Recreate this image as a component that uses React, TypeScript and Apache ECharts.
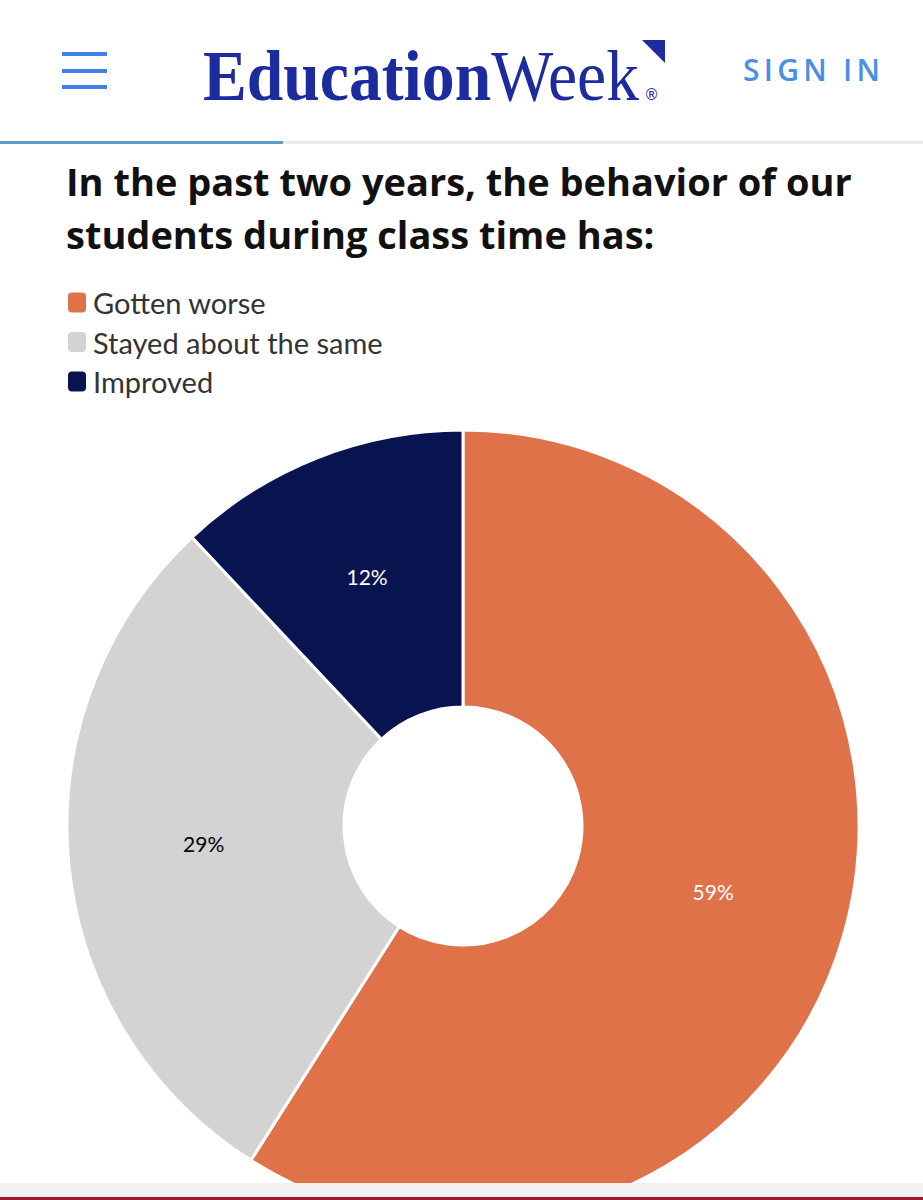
import React, { useEffect, useRef } from "react";
import * as echarts from "echarts";

const categories = ["Gotten worse", "Stayed about the same", "Improved"];
const values = [59, 29, 12];
const sliceColors = ["#E07249", "#D3D3D3", "#08144F"];
const labelColors = ["#ffffff", "#000000", "#ffffff"];
const titleLines = ["In the past two years, the behavior of our", "students during class time has:"];

export default function App() {
  const ref = useRef<HTMLDivElement>(null);

  useEffect(() => {
    if (!ref.current) return;
    const chart = echarts.init(ref.current, null, { renderer: "svg" });
    chart.setOption({
      animation: false,
      backgroundColor: "transparent",
      title: {
        text: titleLines.join("\n"),
        left: 66,
        top: 4,
        padding: 0,
        textStyle: {
          fontFamily: "Open Sans",
          fontWeight: "bold",
          fontSize: 38,
          lineHeight: 53,
          color: "#111111",
        },
      },
      legend: {
        orient: "vertical",
        left: 66,
        top: 138,
        padding: 0,
        icon: "roundRect",
        itemWidth: 20,
        itemHeight: 22,
        itemGap: 10.5,
        selectedMode: false,
        data: categories,
        textStyle: {
          fontFamily: "Lato",
          fontSize: 29,
          lineHeight: 22,
          color: "#333333",
          padding: [0, 0, 0, 1],
        },
      },
      series: [
        {
          type: "pie",
          center: [463, 676],
          radius: [119, 396],
          startAngle: 90,
          clockwise: true,
          avoidLabelOverlap: false,
          silent: true,
          itemStyle: { borderColor: "#ffffff", borderWidth: 3 },
          label: {
            show: true,
            position: "inside",
            formatter: "{c}%",
            fontFamily: "Lato",
            fontSize: 21,
            fontWeight: "normal",
            offset: [0, -7],
          },
          labelLine: { show: false },
          data: categories.map((name, i) => ({
            name,
            value: values[i],
            itemStyle: { color: sliceColors[i] },
            label: { color: labelColors[i] },
          })),
        },
      ],
    });
    return () => chart.dispose();
  }, []);

  return (
    <div
      style={{
        position: "absolute",
        left: 0,
        top: 0,
        width: 923,
        height: 1200,
        overflow: "hidden",
        background: "#ffffff",
      }}
    >
      <svg
        width={923}
        height={150}
        style={{ position: "absolute", left: 0, top: 0 }}
      >
        <rect x={62} y={52} width={45} height={4} fill="#3F83E6" />
        <rect x={62} y={69} width={45} height={4} fill="#3F83E6" />
        <rect x={62} y={85} width={45} height={4} fill="#3F83E6" />
        <text
          transform="translate(203,100) scale(1,1.12)"
          x={0}
          y={0}
          fontFamily="Liberation Serif"
          fontSize={64}
          fill="#1C2B9E"
          textLength={436}
          lengthAdjust="spacingAndGlyphs"
        >
          <tspan fontWeight="bold">Education</tspan>
          <tspan fontWeight="normal">Week</tspan>
        </text>
        <text x={644} y={100} fontFamily="DejaVu Sans" fontSize={15} fill="#1C2B9E">
          ®
        </text>
        <polygon points="642,40 665,40 665,63" fill="#1C2B9E" />
        <text
          x={743}
          y={81}
          fontFamily="Open Sans"
          fontWeight={600}
          fontSize={30}
          fill="#4A8FE7"
          textLength={137}
          lengthAdjust="spacing"
        >
          SIGN IN
        </text>
        <rect x={0} y={141} width={923} height={3} fill="#ECECEC" />
        <rect x={0} y={141} width={283} height={3} fill="#5B9BC8" />
      </svg>
      <div
        ref={ref}
        style={{ position: "absolute", left: 0, top: 150, width: 923, height: 1033 }}
      />
      <div
        style={{ position: "absolute", left: 0, top: 1183, width: 923, height: 14, background: "#F1F0F2" }}
      />
      <div
        style={{ position: "absolute", left: 0, top: 1197, width: 923, height: 3, background: "#A3172C" }}
      />
    </div>
  );
}
